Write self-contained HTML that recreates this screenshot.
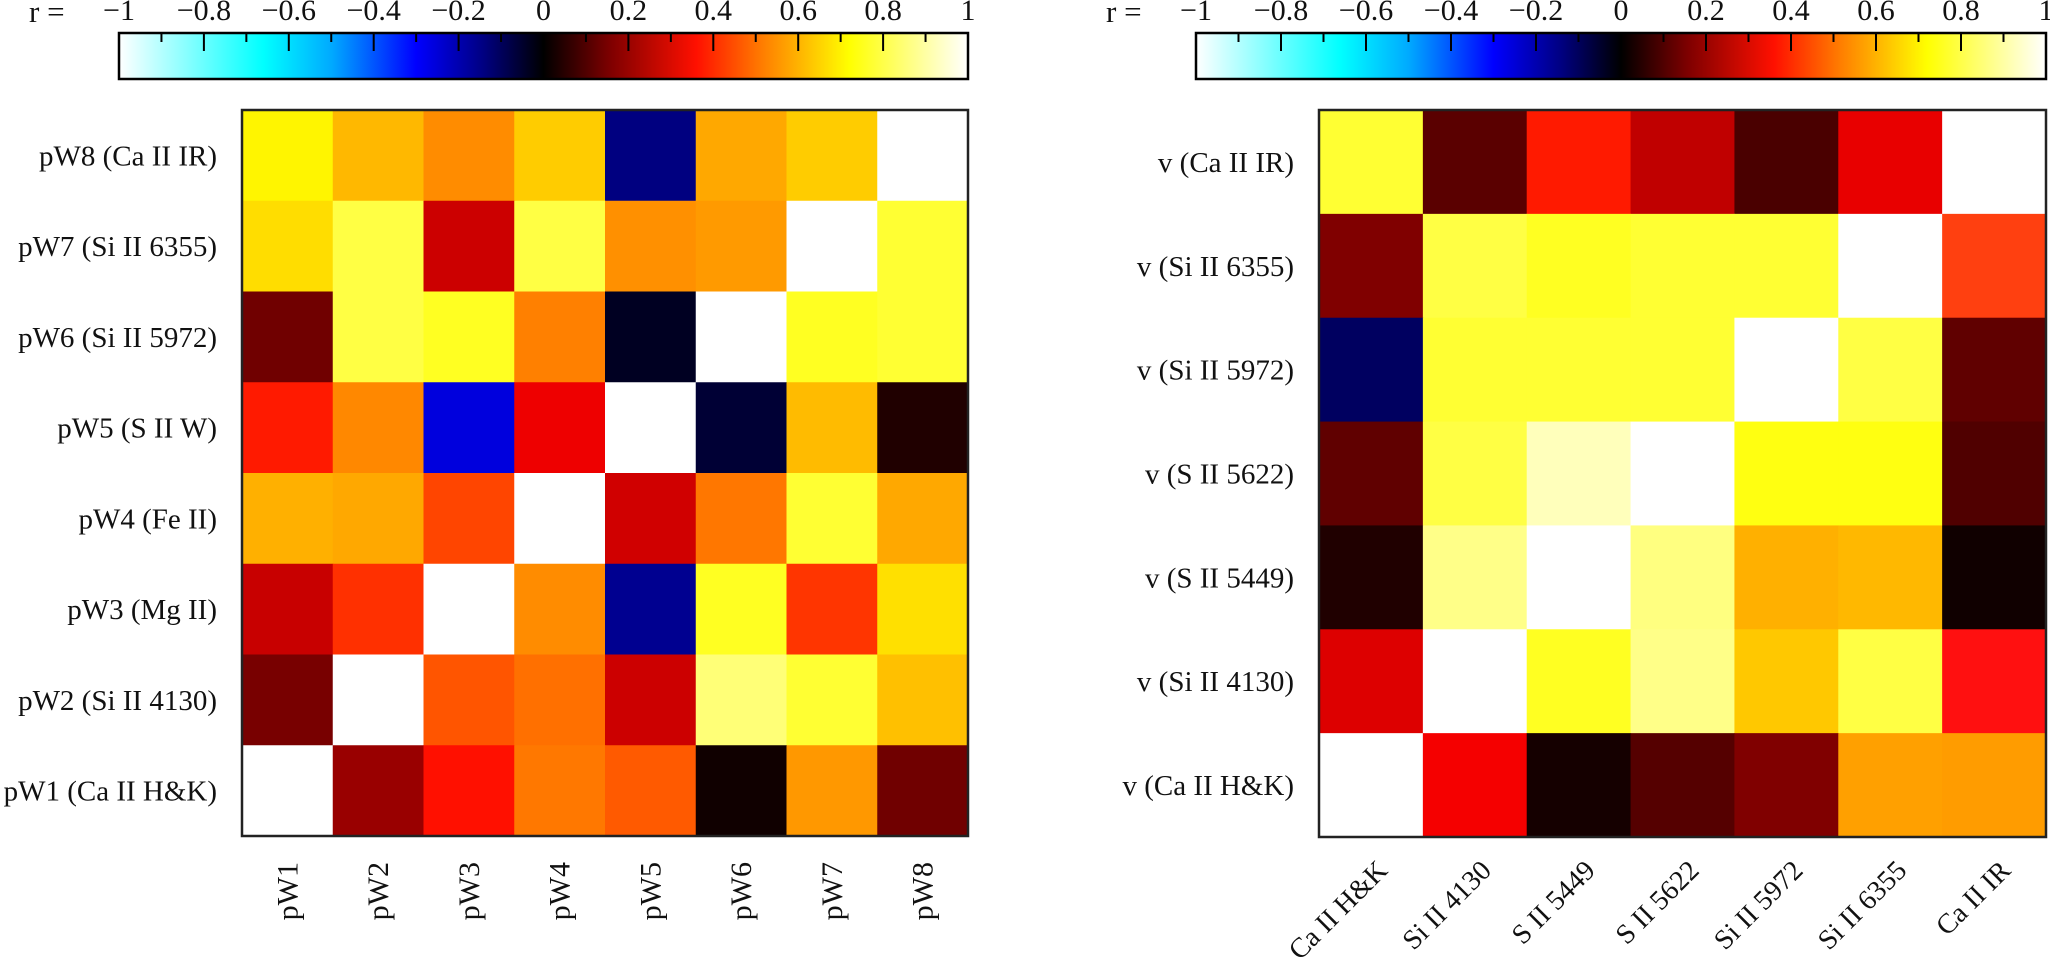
<!DOCTYPE html>
<html><head><meta charset="utf-8"><style>
html,body{margin:0;padding:0;background:#fff;}
svg{display:block;}
text{font-family:"Liberation Serif","DejaVu Serif",serif;fill:#111;}
</style></head><body>
<svg width="2050" height="961" xmlns="http://www.w3.org/2000/svg">
<defs>
<linearGradient id="cb" x1="0" x2="1" y1="0" y2="0">
<stop offset="0" stop-color="#ffffff"/>
<stop offset="0.17" stop-color="#00ffff"/>
<stop offset="0.25" stop-color="#00aaff"/>
<stop offset="0.35" stop-color="#0000ff"/>
<stop offset="0.43" stop-color="#000080"/>
<stop offset="0.5" stop-color="#000000"/>
<stop offset="0.58" stop-color="#800000"/>
<stop offset="0.68" stop-color="#ff1000"/>
<stop offset="0.76" stop-color="#ff8000"/>
<stop offset="0.86" stop-color="#ffff00"/>
<stop offset="1" stop-color="#ffffff"/>
</linearGradient>
</defs>
<g id="content"></g>
</svg>
<script>
const NS="http://www.w3.org/2000/svg";
const g=document.getElementById("content");
function el(t,a,txt){const e=document.createElementNS(NS,t);for(const k in a)e.setAttribute(k,a[k]);if(txt!==undefined)e.textContent=txt;g.appendChild(e);return e;}
function colorbar(x0,x1){
 const y0=33,y1=79,w=x1-x0;
 el("rect",{x:x0,y:y0,width:w,height:y1-y0,fill:"url(#cb)",stroke:"#000","stroke-width":2.5});
 for(let i=1;i<20;i++){const x=x0+w*i/20;el("line",{x1:x,x2:x,y1:y0,y2:y0+(i%2==0?18:9),stroke:"#000","stroke-width":2});}
 const labs=["−1","−0.8","−0.6","−0.4","−0.2","0","0.2","0.4","0.6","0.8","1"];
 labs.forEach((l,i)=>{el("text",{x:x0+w*i/10,y:20,"font-size":30,"text-anchor":"middle"},l);});
 el("text",{x:x0-90,y:22,"font-size":31},"r =");
}
colorbar(119,968);
colorbar(1196,2046);
function heat(x0,y0,size,data,rowlabs,collabs,rot){
 const n=data.length,c=size/n;
 data.forEach((row,r)=>row.forEach((col,k)=>{el("rect",{x:x0+k*c,y:y0+r*c,width:c+0.5,height:c+0.5,fill:col});}));
 el("rect",{x:x0,y:y0,width:size,height:size,fill:"none",stroke:"#222","stroke-width":2.5});
 rowlabs.forEach((l,r)=>{el("text",{x:x0-25,y:y0+r*c+c/2+10,"font-size":29,"text-anchor":"end"},l);});
 collabs.forEach((l,k)=>{const cx=x0+k*c+c/2;
  if(rot==90){el("text",{x:cx+10,y:862,"font-size":30,"text-anchor":"end",transform:`rotate(-90 ${cx+10} 862)`},l);}
  else{const ax=cx+18,ay=872;el("text",{x:ax,y:ay,"font-size":28,"text-anchor":"end",transform:`rotate(-45 ${ax} ${ay})`},l);}
 });
}
const W="#ffffff";
const L=[
["#fff500","#ffb800","#ff8c00","#ffcc00","#000080","#ffa800","#ffcc00",W],
["#ffdd00","#ffff44","#cc0000","#ffff44","#ff9000","#ff9a00",W,"#ffff33"],
["#700000","#ffff44","#ffff22","#ff8000","#000022",W,"#ffff22","#ffff33"],
["#ff1a00","#ff8800","#0000dd","#ee0000",W,"#000035","#ffbb00","#200000"],
["#ffb000","#ffa800","#ff4500",W,"#d00000","#ff7700","#ffff33","#ffa800"],
["#c80000","#ff3000",W,"#ff8c00","#000090","#ffff22","#ff3500","#ffe000"],
["#780000",W,"#ff5500","#ff7000","#cc0000","#ffff77","#ffff33","#ffc000"],
[W,"#990000","#ff1000","#ff7800","#ff5a00","#100000","#ff9800","#700000"]];
heat(242,110,726,L,["pW8 (Ca II IR)","pW7 (Si II 6355)","pW6 (Si II 5972)","pW5 (S II W)","pW4 (Fe II)","pW3 (Mg II)","pW2 (Si II 4130)","pW1 (Ca II H&K)"],
["pW1","pW2","pW3","pW4","pW5","pW6","pW7","pW8"],90);
const R=[
["#ffff33","#5a0000","#ff1a00","#c00000","#4a0000","#e80000",W],
["#800000","#ffff44","#ffff22","#ffff33","#ffff33",W,"#ff4010"],
["#000060","#ffff33","#ffff33","#ffff33",W,"#ffff44","#600000"],
["#600000","#ffff44","#ffffbb",W,"#ffff11","#ffff11","#500000"],
["#200000","#ffff88",W,"#ffff80","#ffb000","#ffb800","#100000"],
["#dd0000",W,"#ffff22","#ffff88","#ffc800","#ffff44","#ff1010"],
[W,"#f50000","#150000","#550000","#800000","#ffa000","#ff9c00"]];
heat(1319,110,727,R,["v (Ca II IR)","v (Si II 6355)","v (Si II 5972)","v (S II 5622)","v (S II 5449)","v (Si II 4130)","v (Ca II H&K)"],
["Ca II H&K","Si II 4130","S II 5449","S II 5622","Si II 5972","Si II 6355","Ca II IR"],45);
</script>
</body></html>
